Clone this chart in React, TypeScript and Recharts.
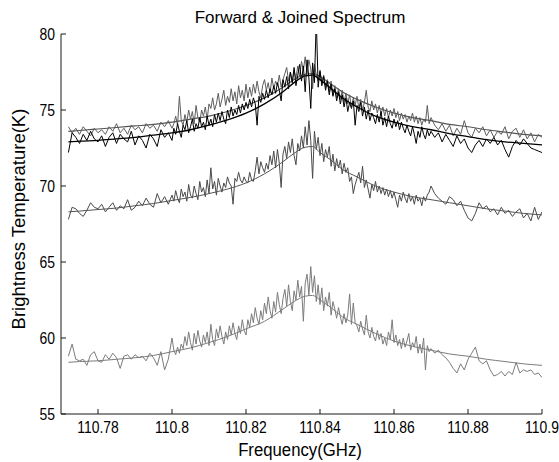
import React from 'react';
import { LineChart, Line, XAxis, YAxis } from 'recharts';

// Frequencies of the measured spectra, in MHz above 110 GHz
const FREQ_OFFSET_MHZ = [
  772, 773, 774, 775, 776, 777, 778, 779, 780, 781, 782, 783, 784, 785, 786, 787, 788, 789, 790, 791, 792, 793, 794, 795, 796, 797, 798, 799, 800,
  800.5, 801, 801.5, 802, 802.5, 803, 803.5, 804, 804.5, 805, 805.5, 806, 806.5, 807, 807.5, 808, 808.5, 809, 809.5, 810,
  810.5, 811, 811.5, 812, 812.5, 813, 813.5, 814, 814.5, 815, 815.5, 816, 816.5, 817, 817.5, 818, 818.5, 819, 819.5, 820,
  820.5, 821, 821.5, 822, 822.5, 823, 823.5, 824, 824.5, 825, 825.5, 826, 826.5, 827, 827.5, 828, 828.5, 829, 829.5, 830,
  830.5, 831, 831.5, 832, 832.5, 833, 833.5, 834, 834.5, 835, 835.5, 836, 836.5, 837, 837.5, 838, 838.5, 839, 839.5, 840,
  840.5, 841, 841.5, 842, 842.5, 843, 843.5, 844, 844.5, 845, 845.5, 846, 846.5, 847, 847.5, 848, 848.5, 849, 849.5, 850,
  850.5, 851, 851.5, 852, 852.5, 853, 853.5, 854, 854.5, 855, 855.5, 856, 856.5, 857, 857.5, 858, 858.5, 859, 859.5, 860,
  860.5, 861, 861.5, 862, 862.5, 863, 863.5, 864, 864.5, 865, 865.5, 866, 866.5, 867, 867.5, 868, 868.5, 869, 869.5, 870,
  871, 872, 873, 874, 875, 876, 877, 878, 879, 880, 881, 882, 883, 884, 885, 886, 887, 888, 889, 890, 891, 892, 893, 894, 895, 896, 897, 898, 899, 900,
];

const TOP_BLACK_SPECTRUM = [
  72.2, 73.5, 73.2, 72.8, 73.4, 73.0, 73.6, 73.1, 72.9, 73.3, 72.6, 73.2, 73.5, 72.8, 73.4, 73.1, 72.9, 73.6, 72.7, 73.3, 73.0, 72.5, 73.4, 73.1, 72.6, 73.7, 73.2, 73.5, 73.0,
  73.8, 73.4, 74.1, 73.6, 73.2, 74.0, 73.7, 74.3, 73.5, 73.9, 74.4, 73.6, 74.1, 73.8, 74.5, 73.9, 74.2, 73.7, 74.6, 74.0,
  74.4, 73.9, 74.7, 74.2, 74.8, 74.3, 74.9, 74.4, 74.1, 75.0, 74.5, 75.2, 74.6, 75.0, 74.7, 75.3, 74.8, 75.4, 75.0, 75.5,
  75.1, 75.7, 75.2, 75.8, 75.4, 74.0, 75.9, 75.5, 76.1, 75.7, 76.3, 75.8, 76.4, 76.0, 76.6, 76.1, 76.8, 76.3, 75.6, 77.0,
  76.5, 77.2, 76.4, 77.5, 76.8, 77.8, 76.6, 77.3, 78.0, 76.9, 77.9, 76.2, 78.3, 77.1, 75.1, 78.1, 76.8, 81.0, 76.5, 77.6,
  76.6, 77.2, 76.3, 76.9, 76.0, 76.7, 75.9, 76.4, 75.6, 76.2, 75.4, 76.0, 75.2, 75.8, 74.9, 75.5, 75.1, 75.6, 74.0, 75.3,
  74.9, 75.5, 74.6, 75.2, 74.4, 75.0, 74.3, 74.8, 74.5, 74.1, 74.7, 74.2, 74.9, 74.0, 74.5, 73.9, 74.6, 74.1, 73.8, 74.4,
  73.9, 74.3, 73.7, 74.2, 73.8, 73.5, 74.0, 73.6, 73.3, 73.9, 73.4, 72.8, 73.6, 73.2, 73.9, 73.4, 73.1, 73.7, 73.3, 73.6,
  73.2, 73.5, 72.9, 73.4, 73.0, 72.6, 73.3, 72.8, 73.1, 72.5, 72.2, 72.7, 73.0, 72.6, 73.1, 72.8, 73.2, 72.7, 73.0, 72.4, 71.9, 72.6, 73.0, 72.7, 73.1, 72.8, 72.5, 72.4, 72.3, 72.2,
];

const TOP_GRAY_SPECTRUM = [
  73.9, 73.5, 73.8, 73.4, 73.9, 73.6, 73.3, 73.8, 73.5, 73.7, 73.4, 73.9, 73.6, 74.1, 73.5, 73.8, 73.4, 74.0, 73.7, 73.9, 73.5, 74.1, 73.8, 74.0, 73.6, 74.2, 73.9, 74.3, 73.8,
  74.1, 74.6, 74.0, 75.9, 74.3, 74.0, 74.7, 74.2, 75.0, 74.4, 74.9, 74.1, 75.3, 74.5, 74.2, 75.0, 74.6, 75.2, 74.4, 75.4,
  75.1, 75.8, 75.0, 75.4, 76.1, 75.2, 75.7, 76.3, 75.3, 75.9, 75.5, 76.4, 75.6, 76.2, 75.4, 76.6, 75.8, 76.3, 75.6, 76.7,
  75.8, 76.5, 75.9, 76.7, 76.1, 76.9, 76.2, 75.8, 76.6, 77.0, 76.3, 76.8, 76.1, 77.1, 76.4, 76.9, 76.6, 77.3, 76.5, 77.0,
  77.4, 77.8, 76.9, 77.5, 76.8, 77.6, 77.1, 77.9, 77.2, 78.2, 77.6, 78.5, 77.4, 78.3, 77.7, 76.4, 78.0, 77.3, 76.9, 77.5,
  76.8, 77.3, 76.5, 77.0, 76.2, 76.9, 76.0, 76.6, 75.8, 76.4, 75.7, 76.3, 75.5, 76.1, 75.4, 76.0, 75.2, 75.8, 75.3, 75.9,
  75.1, 75.7, 75.0, 75.5, 76.3, 75.2, 74.9, 75.6, 75.0, 75.4, 74.8, 75.3, 74.7, 75.2, 74.6, 75.1, 74.5, 75.0, 74.6, 75.1,
  74.5, 74.9, 74.3, 74.8, 74.4, 74.7, 74.2, 74.6, 74.3, 74.8, 74.2, 74.6, 74.1, 74.5, 74.0, 74.4, 74.2, 75.3, 74.1, 74.5,
  74.0, 73.7, 74.1, 73.6, 74.0, 73.3, 73.8, 73.4, 74.3, 73.5, 73.2, 73.8, 73.5, 73.9, 73.3, 73.7, 73.2, 73.6, 73.4, 73.9, 73.1, 73.6, 73.8, 73.2, 73.7, 73.1, 73.5, 72.9, 73.4, 73.2,
];

const MIDDLE_SPECTRUM = [
  67.8, 68.6, 68.5, 68.2, 68.0, 68.4, 68.9, 68.6, 68.5, 68.8, 68.3, 68.6, 68.9, 68.4, 68.7, 68.5, 69.1, 68.4, 68.6, 69.0, 68.7, 69.2, 68.8, 68.6, 69.5, 68.9, 69.3, 68.8, 69.4,
  69.0, 69.7, 69.2, 68.9, 69.8, 69.3, 69.6, 69.0, 70.1, 69.4, 69.2, 70.0, 69.5, 69.1, 70.3, 69.6, 69.9, 69.3, 70.4, 69.5,
  71.2, 69.8, 70.3, 69.4, 70.5, 70.0, 69.6, 70.2, 69.9, 70.6, 70.2, 70.0, 68.8, 70.5, 70.3, 70.9, 70.4, 70.2, 70.6, 70.3,
  70.2, 70.9, 70.4, 70.3, 71.0, 71.9, 70.8, 71.6, 71.2, 70.9, 71.5, 71.1, 72.0, 71.4, 72.3, 71.2, 72.4, 71.5, 69.9, 72.1,
  72.6, 71.8, 72.9, 72.2, 73.1, 72.0, 71.4, 72.8, 72.3, 73.3, 72.5, 73.9, 72.7, 74.3, 73.0, 70.5, 73.6, 72.4, 73.2, 72.0,
  72.8, 71.6, 72.4, 71.9, 72.6, 71.3, 72.1, 71.0, 71.8, 71.2, 71.7, 70.8, 71.5, 70.9, 71.2, 70.3, 70.6, 69.5, 70.1, 70.5,
  70.9, 70.2, 71.3, 69.9, 70.4, 69.8, 69.2, 70.1, 69.7, 70.3, 69.6, 70.0, 69.5, 69.9, 69.4, 69.8, 69.3, 69.7, 69.2, 69.6,
  69.1, 68.6, 69.4, 69.0, 69.6, 69.2, 68.9, 69.5, 69.0, 69.3, 68.8, 69.4, 69.0, 69.2, 68.7, 69.3, 69.0, 69.4, 69.6, 70.0,
  69.5, 69.2, 69.0, 68.8, 69.3, 69.1, 68.7, 69.0, 68.4, 67.9, 67.7, 68.2, 68.9, 68.5, 68.7, 68.3, 68.5, 68.1, 68.6, 68.2, 68.4, 68.0, 68.3, 68.5, 67.9, 68.2, 67.7, 68.6, 67.8, 68.3,
];

const BOTTOM_SPECTRUM = [
  58.8, 59.6, 58.6, 58.5, 58.6, 58.2, 58.9, 59.1, 58.5, 58.4, 58.9, 58.6, 59.0, 58.7, 58.0, 58.8, 58.9, 58.6, 58.9, 58.7, 58.8, 58.5, 59.0, 58.7, 58.2, 59.1, 57.9, 58.6, 60.0,
  59.2, 58.9, 59.4, 59.0, 59.6, 59.3, 60.1, 59.5, 60.4, 59.7, 59.2, 60.3, 59.6, 60.5, 59.8, 59.4, 60.2, 59.7, 60.4, 59.5,
  60.9, 59.9, 59.5, 60.6, 60.0, 60.8, 60.1, 59.6, 60.4, 59.9, 60.8, 60.2, 61.0, 60.3, 59.9, 60.8, 60.3, 61.2, 60.5, 60.2,
  61.2, 60.7, 61.6, 61.0, 62.0, 61.3, 60.9, 61.8, 61.2, 62.3, 61.6, 62.7, 61.8, 61.3, 62.4, 61.7, 63.0, 62.2, 61.6, 62.6,
  63.2, 62.1, 63.5, 62.4, 61.8, 63.1, 62.5, 63.8, 62.7, 63.4, 61.1, 63.6, 64.2, 62.8, 64.7, 63.0, 64.1, 62.4, 63.5, 62.2,
  63.3, 61.8, 62.7, 62.1, 63.0, 61.5, 62.4, 61.9, 61.3, 62.0, 61.4, 60.9, 61.6, 61.0, 61.5, 62.9, 60.9, 62.3, 61.0, 60.8,
  60.4, 61.1, 60.6, 60.2, 61.5, 60.4, 60.0, 60.7, 60.1, 59.8, 60.5, 59.9, 60.3, 59.6, 60.0, 59.5, 60.4, 59.9, 61.2, 59.7,
  60.2, 59.5, 59.9, 59.3, 60.0, 59.4, 59.8, 60.3, 59.2, 59.7, 59.4, 60.1, 59.0, 59.6, 59.0, 60.0, 57.9, 59.5, 59.1, 59.3,
  59.0, 59.2, 58.9, 58.7, 58.4, 58.0, 57.7, 58.3, 57.9, 58.6, 59.0, 59.4, 58.5, 58.3, 58.5, 57.9, 57.5, 57.6, 57.8, 57.5, 57.8, 57.6, 58.4, 57.7, 57.9, 57.8, 57.9, 57.6, 57.7, 57.4,
];

// Fitted line shapes, sampled at these frequencies (MHz above 110 GHz)
const FIT_FREQ_OFFSET_MHZ = [772, 775, 780, 785, 790, 795, 800, 805, 810, 815, 820, 825, 830, 833, 836, 838, 840, 843, 846, 850, 855, 860, 865, 870, 875, 880, 885, 890, 895, 900];
const FIT_TOP_GRAY = [73.6, 73.65, 73.75, 73.85, 73.95, 74.05, 74.2, 74.4, 74.6, 74.9, 75.3, 75.8, 76.5, 77.0, 77.35, 77.4, 77.2, 76.7, 76.2, 75.7, 75.2, 74.8, 74.5, 74.3, 74.05, 73.9, 73.7, 73.55, 73.4, 73.3];
const FIT_TOP_BLACK = [72.9, 72.95, 73.0, 73.1, 73.2, 73.35, 73.5, 73.7, 74.0, 74.35, 74.8, 75.4, 76.2, 76.8, 77.25, 77.3, 77.0, 76.4, 75.8, 75.2, 74.6, 74.2, 73.9, 73.7, 73.45, 73.25, 73.05, 72.9, 72.8, 72.7];
const FIT_MIDDLE = [68.3, 68.35, 68.45, 68.55, 68.7, 68.85, 69.05, 69.25, 69.5, 69.8, 70.2, 70.8, 71.6, 72.15, 72.55, 72.6, 72.2, 71.7, 71.1, 70.6, 70.0, 69.6, 69.3, 69.1, 68.9, 68.7, 68.5, 68.35, 68.2, 68.1];
const FIT_BOTTOM = [58.4, 58.45, 58.5, 58.6, 58.7, 58.85, 59.1, 59.35, 59.7, 60.1, 60.6, 61.1, 61.9, 62.4, 62.75, 62.8, 62.5, 62.0, 61.4, 60.9, 60.3, 59.8, 59.45, 59.2, 58.95, 58.8, 58.6, 58.45, 58.3, 58.2];

const X_TICKS = [110.78, 110.8, 110.82, 110.84, 110.86, 110.88, 110.9];
const Y_TICKS = [55, 60, 65, 70, 75, 80];
const X_DOMAIN = [110.77, 110.9];
const Y_DOMAIN = [55, 80];

const toPoints = (offsets: number[], values: number[]) =>
  offsets.map((m, i) => ({ f: 110 + m / 1000, t: values[i] }));

const FONT = '"Liberation Sans", Arial, Helvetica, sans-serif';
const AXIS_COLOR = '#1a1a1a';

const XTick = (props: any) => {
  const { x, y, payload } = props;
  return (
    <g transform={`translate(${x},${y})`}>
      <text transform="scale(0.87,1)" textAnchor="middle" dy="0.72em" fontSize={16} fontFamily={FONT} fill="#000">
        {String(payload.value)}
      </text>
    </g>
  );
};

const YTick = (props: any) => {
  const { x, y, payload } = props;
  return (
    <g transform={`translate(${x},${y})`}>
      <text transform="scale(0.87,1)" textAnchor="end" dy="0.36em" fontSize={16} fontFamily={FONT} fill="#000">
        {String(payload.value)}
      </text>
    </g>
  );
};

export default function App() {
  const series = [
    { key: 'bottom', data: toPoints(FREQ_OFFSET_MHZ, BOTTOM_SPECTRUM), color: '#7c7c7c', width: 1, type: 'linear' },
    { key: 'bottomFit', data: toPoints(FIT_FREQ_OFFSET_MHZ, FIT_BOTTOM), color: '#7c7c7c', width: 1, type: 'monotone' },
    { key: 'middle', data: toPoints(FREQ_OFFSET_MHZ, MIDDLE_SPECTRUM), color: '#4a4a4a', width: 1, type: 'linear' },
    { key: 'middleFit', data: toPoints(FIT_FREQ_OFFSET_MHZ, FIT_MIDDLE), color: '#555555', width: 1, type: 'monotone' },
    { key: 'topGray', data: toPoints(FREQ_OFFSET_MHZ, TOP_GRAY_SPECTRUM), color: '#5e5e5e', width: 1, type: 'linear' },
    { key: 'topGrayFit', data: toPoints(FIT_FREQ_OFFSET_MHZ, FIT_TOP_GRAY), color: '#555555', width: 1.2, type: 'monotone' },
    { key: 'topBlack', data: toPoints(FREQ_OFFSET_MHZ, TOP_BLACK_SPECTRUM), color: '#000000', width: 1, type: 'linear' },
    { key: 'topBlackFit', data: toPoints(FIT_FREQ_OFFSET_MHZ, FIT_TOP_BLACK), color: '#000000', width: 1.3, type: 'monotone' },
  ];

  return (
    <div style={{ position: 'absolute', left: 0, top: 0, width: 559, height: 462, background: '#fff', fontFamily: FONT }}>
      <LineChart width={559} height={462} margin={{ top: 34, right: 17, bottom: 0, left: 0 }}>
        <XAxis
          xAxisId="x"
          dataKey="f"
          type="number"
          domain={X_DOMAIN}
          ticks={X_TICKS}
          interval={0}
          allowDataOverflow
          height={48}
          tickSize={-5}
          tickMargin={12}
          tick={<XTick />}
          stroke={AXIS_COLOR}
        />
        <XAxis
          xAxisId="top"
          orientation="top"
          type="number"
          domain={X_DOMAIN}
          ticks={X_TICKS}
          interval={0}
          allowDataOverflow
          height={0}
          tickSize={-5}
          tick={false}
          stroke={AXIS_COLOR}
        />
        <YAxis
          yAxisId="y"
          type="number"
          domain={Y_DOMAIN}
          ticks={Y_TICKS}
          interval={0}
          allowDataOverflow
          width={61}
          tickSize={-5}
          tickMargin={11}
          tick={<YTick />}
          stroke={AXIS_COLOR}
        />
        <YAxis
          yAxisId="right"
          orientation="right"
          type="number"
          domain={Y_DOMAIN}
          ticks={Y_TICKS}
          interval={0}
          allowDataOverflow
          width={0}
          tickSize={-5}
          tick={false}
          stroke={AXIS_COLOR}
        />
        {series.map((s) => (
          <Line
            key={s.key}
            xAxisId="x"
            yAxisId="y"
            data={s.data}
            dataKey="t"
            type={s.type as any}
            stroke={s.color}
            strokeWidth={s.width}
            dot={false}
            activeDot={false}
            isAnimationActive={false}
          />
        ))}
      </LineChart>
      <div style={{ position: 'absolute', left: 150, top: 8, width: 300, textAlign: 'center', fontSize: 17, lineHeight: '20px', color: '#000' }}>
        Forward &amp; Joined Spectrum
      </div>
      <div
        style={{
          position: 'absolute',
          left: 150,
          top: 440,
          width: 300,
          textAlign: 'center',
          fontSize: 18,
          lineHeight: '20px',
          color: '#000',
          transform: 'scaleX(0.93)',
        }}
      >
        Frequency(GHz)
      </div>
      <div
        style={{
          position: 'absolute',
          left: 19 - 150,
          top: 219 - 10,
          width: 300,
          textAlign: 'center',
          fontSize: 18.5,
          lineHeight: '20px',
          color: '#000',
          transform: 'rotate(-90deg)',
          transformOrigin: '150px 10px',
        }}
      >
        Brightness Temperature(K)
      </div>
    </div>
  );
}
